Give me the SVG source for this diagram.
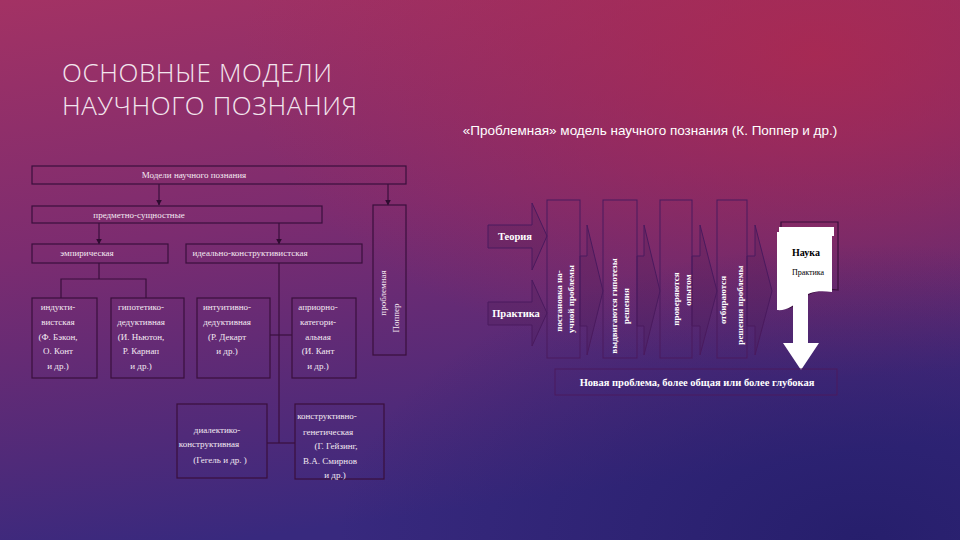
<svg xmlns="http://www.w3.org/2000/svg" width="960" height="540" viewBox="0 0 960 540">
<defs>
<linearGradient id="bg" x1="0" y1="0" x2="0.25" y2="1">
<stop offset="0" stop-color="#a33264"/>
<stop offset="0.45" stop-color="#7c2c70"/>
<stop offset="1" stop-color="#38297e"/>
</linearGradient>
<radialGradient id="tr" cx="0.85" cy="0.1" r="0.6">
<stop offset="0" stop-color="#b0284c" stop-opacity="0.75"/>
<stop offset="1" stop-color="#b0284c" stop-opacity="0"/>
</radialGradient>
<radialGradient id="br" cx="0.9" cy="1" r="0.55">
<stop offset="0" stop-color="#221c68" stop-opacity="0.8"/>
<stop offset="1" stop-color="#221c68" stop-opacity="0"/>
</radialGradient>
<marker id="ah" viewBox="0 0 10 10" refX="9" refY="5" markerWidth="5" markerHeight="5" orient="auto">
<path d="M0,0 L10,5 L0,10 z" fill="#2e0c30"/>
</marker>
<style>
.bx{fill:none;stroke:#3a0f3c;stroke-width:1.2}
.ln{fill:none;stroke:#3a0f3c;stroke-width:1.2}
.ar{fill:none;stroke:#3a0f3c;stroke-width:1.2;marker-end:url(#ah)}
.t{font-family:"Liberation Serif",serif;font-size:9px;fill:#f4eaf2;text-anchor:middle}
.st{fill:none;stroke:#4a1a5e;stroke-width:1}
.ba{fill:#4a1a55;fill-opacity:0.25;stroke:#4a1a5e;stroke-width:1}
.vt{font-family:"Liberation Serif",serif;font-size:9px;font-weight:bold;fill:#ffffff;text-anchor:middle}
.bt{font-family:"Liberation Serif",serif;font-size:10.5px;font-weight:bold;fill:#ffffff}
.ti{font-family:"Open Sans",sans-serif;font-weight:300;font-size:26px;letter-spacing:0.6px;fill:#f3e6ee}
</style>
</defs>
<rect width="960" height="540" fill="url(#bg)"/>
<rect width="960" height="540" fill="url(#tr)"/>
<rect width="960" height="540" fill="url(#br)"/>

<g id="title">
<text class="ti" x="62" y="82">ОСНОВНЫЕ МОДЕЛИ</text>
<text class="ti" x="62" y="115">НАУЧНОГО ПОЗНАНИЯ</text>
</g>
<g id="subtitle">
<text x="650" y="135" font-family="'Liberation Sans',sans-serif" font-size="13.5" fill="#ffffff" text-anchor="middle">«Проблемная» модель научного познания (К. Поппер и др.)</text>
</g>

<g id="connectors">
<line class="ar" x1="159" y1="184" x2="159" y2="205"/>
<line class="ar" x1="388" y1="184" x2="388" y2="205"/>
<line class="ar" x1="99" y1="223" x2="99" y2="244"/>
<line class="ar" x1="279" y1="223" x2="279" y2="244"/>
<line class="ln" x1="99" y1="263" x2="99" y2="279"/>
<polyline class="ln" points="61,298 61,279 146,279 146,298"/>
<line class="ln" x1="279" y1="263" x2="279" y2="443"/>
<line class="ln" x1="270" y1="335" x2="292" y2="335"/>
<line class="ln" x1="267" y1="443" x2="295" y2="443"/>
</g>

<g id="n-models"><rect class="bx" x="32" y="166" width="374" height="18"/><text class="t" x="194" y="178">Модели научного познания</text></g>
<g id="n-subject"><rect class="bx" x="32" y="206" width="290" height="17"/><text class="t" x="139" y="218">предметно-сущностные</text></g>
<g id="n-empir"><rect class="bx" x="32" y="244" width="136" height="19"/><text class="t" x="87" y="256">эмпирическая</text></g>
<g id="n-ideal"><rect class="bx" x="186" y="244" width="176" height="19"/><text class="t" x="250" y="256">идеально-конструктивистская</text></g>
<g id="n-popper"><rect class="bx" x="373" y="205" width="33" height="150"/>
<text class="t" transform="translate(386,293) rotate(-90)">проблемная</text>
<text class="t" transform="translate(399,318) rotate(-90)">Поппер</text></g>

<g id="n-induct"><rect class="bx" x="32" y="298" width="65" height="80"/>
<text class="t" x="58" y="310">индукти-</text><text class="t" x="58" y="325">вистская</text><text class="t" x="58" y="340">(Ф. Бэкон,</text><text class="t" x="58" y="354">О. Конт</text><text class="t" x="58" y="369">и др.)</text></g>
<g id="n-hypo"><rect class="bx" x="111" y="298" width="73" height="80"/>
<text class="t" x="141" y="310">гипотетико-</text><text class="t" x="141" y="325">дедуктивная</text><text class="t" x="141" y="340">(И. Ньютон,</text><text class="t" x="141" y="354">Р. Карнап</text><text class="t" x="141" y="369">и др.)</text></g>
<g id="n-intuit"><rect class="bx" x="197" y="298" width="73" height="80"/>
<text class="t" x="227" y="310">интуитивно-</text><text class="t" x="227" y="325">дедуктивная</text><text class="t" x="227" y="340">(Р. Декарт</text><text class="t" x="227" y="354">и др.)</text></g>
<g id="n-apriori"><rect class="bx" x="292" y="298" width="64" height="80"/>
<text class="t" x="318" y="310">априорно-</text><text class="t" x="318" y="325">категори-</text><text class="t" x="318" y="340">альная</text><text class="t" x="318" y="354">(И. Кант</text><text class="t" x="318" y="369">и др.)</text></g>
<g id="n-dialect"><rect class="bx" x="177" y="404" width="90" height="74"/>
<text class="t" x="217" y="433">диалектико-</text><text class="t" x="209" y="447">конструктивная</text><text class="t" x="220" y="463">(Гегель и др.      )</text></g>
<g id="n-constr"><rect class="bx" x="295" y="404" width="89" height="75"/>
<text class="t" x="327" y="419">конструктивно-</text><text class="t" x="328" y="435">генетическая</text><text class="t" x="336" y="449">(Г. Гейзинг,</text><text class="t" x="330" y="464">В.А. Смирнов</text><text class="t" x="335" y="478">и др.)</text></g>

<g id="r-connectors">
<path class="ba" d="M580,256 H587 V225 L603,291 L587,355 V326 H580 Z"/>
<path class="ba" d="M637,256 H644 V225 L660,291 L644,355 V326 H637 Z"/>
<path class="ba" d="M692,256 H700 V225 L717,291 L700,355 V326 H692 Z"/>
<path class="ba" d="M747,256 H755 V225 L772,291 L755,355 V326 H747 Z"/>
</g>
<g id="r-theory"><path class="ba" d="M488,225 H532 V203 L547,236 L532,270 V248 H488 Z"/>
<text class="bt" x="515" y="240" text-anchor="middle" font-size="11">Теория</text></g>
<g id="r-practice"><path class="ba" d="M488,302 H532 V280 L547,313 L532,346 V325 H488 Z"/>
<text class="bt" x="516" y="317" text-anchor="middle" font-size="11.5">Практика</text></g>
<g id="r-s1"><rect class="st" x="547" y="200" width="33" height="158"/>
<text class="vt" transform="translate(562,301) rotate(-90)">постановка на-</text>
<text class="vt" transform="translate(574,299) rotate(-90)">учной проблемы</text></g>
<g id="r-s2"><rect class="st" x="603" y="200" width="34" height="158"/>
<text class="vt" transform="translate(617,306) rotate(-90)">выдвигаются гипотезы</text>
<text class="vt" transform="translate(629,306) rotate(-90)">решения</text></g>
<g id="r-s3"><rect class="st" x="660" y="200" width="32" height="158"/>
<text class="vt" transform="translate(679,299) rotate(-90)">проверяются</text>
<text class="vt" transform="translate(691,290) rotate(-90)">опытом</text></g>
<g id="r-s4"><rect class="st" x="717" y="200" width="30" height="158"/>
<text class="vt" transform="translate(726,300) rotate(-90)">отбираются</text>
<text class="vt" transform="translate(743,305) rotate(-90)">решения проблемы</text></g>
<g id="r-science">
<path d="M781,222 H838 V290 C822,288 810,292 804,298 C796,306 789,310 781,308 Z" fill="none" stroke="#3a0f3c" stroke-width="1.2"/>
<path d="M779,227 H834 V236 H779 Z" fill="#ffffff"/>
<path d="M777,232 H832 V292 C818,290 808,292 802,298 C794,306 786,311 777,310 Z" fill="#ffffff"/>
<text x="806" y="256" font-family="'Liberation Serif',serif" font-size="10" font-weight="bold" fill="#000" text-anchor="middle">Наука</text>
<text x="808" y="275" font-family="'Liberation Serif',serif" font-size="8" fill="#000" text-anchor="middle">Практика</text>
</g>
<g id="r-down"><path d="M793,293 H808 V343 H819 L801,370 L783,343 H793 Z" fill="#ffffff"/></g>
<g id="r-new"><rect class="st" x="555" y="369" width="282" height="26"/>
<text class="bt" x="697" y="386" text-anchor="middle">Новая проблема, более общая или более глубокая</text></g>
</svg>
